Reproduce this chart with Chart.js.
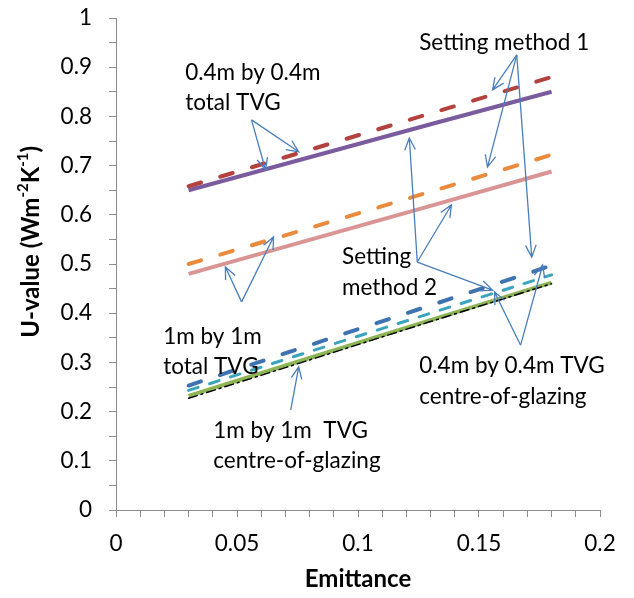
<!DOCTYPE html>
<html>
<head>
<meta charset="utf-8">
<script src="https://cdn.jsdelivr.net/npm/chart.js@4/dist/chart.umd.min.js"></script>
<style>
  html, body { margin: 0; padding: 0; background: #fff; }
  #wrap { width: 634px; height: 598px; }
</style>
</head>
<body>
<div id="wrap"><canvas id="uchart"></canvas></div>
<script>
// emittance values
const emittance = [0.03, 0.08, 0.13, 0.18];

// U-values
const total04Method1 = [0.658, 0.732, 0.806, 0.880];
const total04Method2 = [0.650, 0.717, 0.784, 0.850];
const total1Method1 = [0.500, 0.573, 0.647, 0.722];
const total1Method2 = [0.480, 0.549, 0.618, 0.688];
const cog04Method1 = [0.253, 0.335, 0.416, 0.497];
const cog04Method2 = [0.243, 0.322, 0.400, 0.478];
const cog1Method2 = [0.232, 0.309, 0.386, 0.462];
const cog1Method1 = [0.227, 0.305, 0.383, 0.460];

// annotation text (left edge, vertical middle, in data units)
const noteText = [
  ['Setting method 1', 0.1253, 0.949],
  ['0.4m by 0.4m', 0.0286, 0.888],
  ['total TVG', 0.0286, 0.827],
  ['Setting', 0.0934, 0.514],
  ['method 2', 0.0934, 0.451],
  ['1m by 1m', 0.0195, 0.352],
  ['total TVG', 0.0195, 0.291],
  ['0.4m by 0.4m TVG', 0.1253, 0.293],
  ['centre-of-glazing', 0.1253, 0.230],
  ['1m by 1m  TVG', 0.0402, 0.161],
  ['centre-of-glazing', 0.0402, 0.100]
];

// arrows: from x, from y, to x, to y (data units)
const noteArrows = [
  [0.0560, 0.793, 0.0755, 0.728],
  [0.0560, 0.793, 0.0618, 0.691],
  [0.1656, 0.925, 0.1556, 0.854],
  [0.1656, 0.925, 0.1535, 0.697],
  [0.1656, 0.925, 0.1718, 0.514],
  [0.1245, 0.504, 0.1212, 0.756],
  [0.1245, 0.504, 0.1386, 0.620],
  [0.1245, 0.504, 0.1556, 0.447],
  [0.0519, 0.423, 0.0452, 0.494],
  [0.0519, 0.423, 0.0651, 0.555],
  [0.1672, 0.335, 0.1564, 0.443],
  [0.1672, 0.335, 0.1763, 0.498],
  [0.0722, 0.203, 0.0755, 0.291]
];

const FONT = 'Lato, "Open Sans", sans-serif';

function pts(ys) {
  return emittance.map((x, i) => ({ x: x, y: ys[i] }));
}

function series(label, ys, color, width, dash, order) {
  return {
    label: label,
    data: pts(ys),
    borderColor: color,
    borderWidth: width,
    borderDash: dash,
    borderCapStyle: dash.length ? 'round' : 'butt',
    pointRadius: 0,
    fill: false,
    tension: 0,
    order: order
  };
}

// y title with real superscripts, drawn rotated
function drawYTitle(c, cx, cy) {
  const parts = [['U-value (Wm', false], ['-2', true], ['K', false], ['-1', true], [')', false]];
  const big = 'bold 24px ' + FONT, small = 'bold 15px ' + FONT;
  let total = 0;
  parts.forEach(p => { c.font = p[1] ? small : big; total += c.measureText(p[0]).width; });
  c.save();
  c.translate(cx, cy);
  c.rotate(-Math.PI / 2);
  c.fillStyle = '#000';
  c.textBaseline = 'alphabetic';
  c.textAlign = 'left';
  let x = -total / 2;
  parts.forEach(p => {
    c.font = p[1] ? small : big;
    c.fillText(p[0], x, p[1] ? -2 : 9);
    x += c.measureText(p[0]).width;
  });
  c.restore();
}

const notes = {
  id: 'notes',
  afterDatasetsDraw(chart) {
    const c = chart.ctx;
    const xs = chart.scales.x, ys = chart.scales.y;
    c.save();
    c.strokeStyle = '#4a7ebb';
    c.lineWidth = 1.3;
    noteArrows.forEach(a => {
      const x0 = xs.getPixelForValue(a[0]), y0 = ys.getPixelForValue(a[1]);
      const x1 = xs.getPixelForValue(a[2]), y1 = ys.getPixelForValue(a[3]);
      const ang = Math.atan2(y1 - y0, x1 - x0);
      c.beginPath();
      c.moveTo(x0, y0);
      c.lineTo(x1, y1);
      c.moveTo(x1 - 13 * Math.cos(ang - 0.42), y1 - 13 * Math.sin(ang - 0.42));
      c.lineTo(x1, y1);
      c.lineTo(x1 - 13 * Math.cos(ang + 0.42), y1 - 13 * Math.sin(ang + 0.42));
      c.stroke();
    });
    c.fillStyle = '#000';
    c.font = '22.5px ' + FONT;
    c.textAlign = 'left';
    c.textBaseline = 'middle';
    noteText.forEach(t => {
      c.fillText(t[0], xs.getPixelForValue(t[1]), ys.getPixelForValue(t[2]));
    });
    c.restore();
    drawYTitle(c, 30, ys.getPixelForValue(0.545));
  }
};

const ctx = document.getElementById('uchart').getContext('2d');

const uChart = new Chart(ctx, {
  type: 'line',
  data: {
    datasets: [
      series('0.4m total TVG, method 1', total04Method1, '#b3423e', 4, [13, 20], 6),
      series('0.4m total TVG, method 2', total04Method2, '#7a5c9e', 4, [], 7),
      series('1m total TVG, method 1', total1Method1, '#e98a3c', 4, [13, 20], 4),
      series('1m total TVG, method 2', total1Method2, '#d99593', 4, [], 5),
      series('0.4m centre-of-glazing, method 1', cog04Method1, '#3f72b0', 4, [13, 20], 3),
      series('0.4m centre-of-glazing, method 2', cog04Method2, '#3ba4bd', 3, [10, 12], 2),
      series('1m centre-of-glazing, method 2', cog1Method2, '#8db455', 4, [], 1),
      series('1m centre-of-glazing, method 1', cog1Method1, '#000000', 1.5, [9, 4, 2, 4], 0)
    ]
  },
  options: {
    responsive: true,
    maintainAspectRatio: false,
    animation: false,
    layout: { padding: { left: 10, right: 34, top: 18, bottom: 4 } },
    plugins: {
      legend: { display: false },
      tooltip: { enabled: false }
    },
    scales: {
      x: {
        type: 'linear',
        min: 0,
        max: 0.2,
        afterFit: s => { s.height = 84; },
        border: { color: '#8c8c8c', width: 1 },
        grid: {
          drawOnChartArea: false,
          tickLength: 7,
          tickColor: '#8c8c8c'
        },
        ticks: {
          stepSize: 0.01,
          autoSkip: false,
          maxRotation: 0,
          padding: 13,
          color: '#000',
          font: { family: FONT, size: 22.5 },
          callback: v => {
            const k = Math.round(v * 100);
            return k % 5 === 0 ? String(k / 100) : '';
          }
        },
        title: {
          display: true,
          text: 'Emittance',
          color: '#000',
          font: { family: FONT, size: 24, weight: 'bold' },
          padding: { top: 0, bottom: 0 }
        }
      },
      y: {
        min: 0,
        max: 1,
        afterFit: s => { s.width = 106; s.paddingTop = 0; s.paddingBottom = 0; },
        border: { color: '#8c8c8c', width: 1 },
        grid: {
          drawOnChartArea: false,
          tickLength: 7,
          tickColor: '#8c8c8c'
        },
        ticks: {
          stepSize: 0.05,
          autoSkip: false,
          padding: 17,
          color: '#000',
          font: { family: FONT, size: 22.5 },
          callback: v => {
            const k = Math.round(v * 100);
            return k % 10 === 0 ? String(k / 100) : '';
          }
        },
        title: { display: false }
      }
    }
  },
  plugins: [notes]
});
</script>
</body>
</html>
